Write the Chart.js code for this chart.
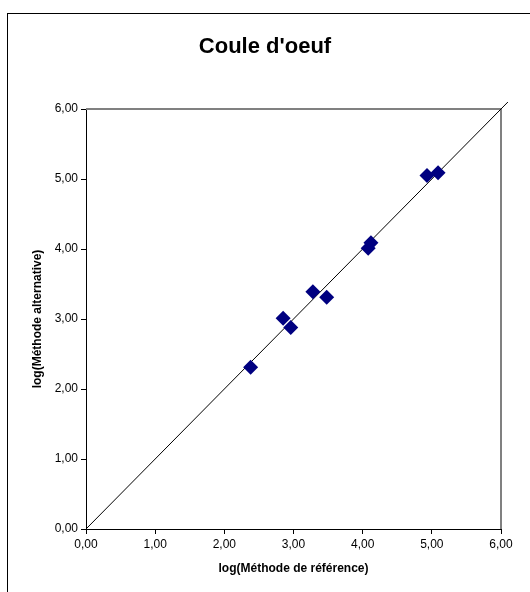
<!DOCTYPE html>
<html>
<head>
<meta charset="utf-8">
<script src="https://cdn.jsdelivr.net/npm/chart.js@4/dist/chart.umd.min.js"></script>
<style>
  body { margin: 0; background: #fff; }
  canvas { display: block; }
</style>
</head>
<body>
<canvas id="myChart" width="530" height="592"></canvas>
<script>
'use strict';

// values
let chartTitle = "Coule d'oeuf";
let refValues = [2.38, 2.85, 2.96, 3.28, 3.48, 4.08, 4.12, 4.93, 5.09];
let altValues = [2.31, 3.01, 2.88, 3.39, 3.31, 4.01, 4.09, 5.05, 5.09];
let lineValues = [0, 6.1];
let tickValues = [0, 1, 2, 3, 4, 5, 6];

let canvasElem = document.getElementById('myChart');
let fontFam = 'Liberation Sans, Arial, sans-serif';

function fmt(v) {
  return v.toFixed(2).replace('.', ',');
}

// frame round the whole chart, title, and grey border of the plot area
let framePlugin = {
  id: 'frame',
  beforeDraw(chart) {
    let ctx = chart.ctx;
    ctx.save();
    ctx.fillStyle = '#fff';
    ctx.fillRect(0, 0, chart.width, chart.height);
    ctx.strokeStyle = '#000';
    ctx.lineWidth = 1;
    ctx.strokeRect(7.5, 13.5, chart.width + 10, chart.height + 10);
    ctx.fillStyle = '#000';
    ctx.font = 'bold 22px ' + fontFam;
    ctx.textAlign = 'center';
    ctx.textBaseline = 'middle';
    ctx.fillText(chartTitle, 265, 47);
    ctx.restore();
  },
  beforeDatasetsDraw(chart) {
    let a = chart.chartArea;
    let ctx = chart.ctx;
    ctx.save();
    ctx.strokeStyle = '#808080';
    ctx.lineWidth = 2;
    ctx.beginPath();
    ctx.moveTo(a.left, a.top);
    ctx.lineTo(a.right, a.top);
    ctx.lineTo(a.right, a.bottom);
    ctx.stroke();
    ctx.restore();
  }
};

function renderChart() {
  let points = [];
  for (let i = 0; i < refValues.length; i++) {
    points.push({ x: refValues[i], y: altValues[i] });
  }
  let linePts = lineValues.map(v => ({ x: v, y: v }));

  let axisBase = {
    type: 'linear',
    min: 0,
    max: 6,
    border: { display: true, color: '#000', width: 1 },
    grid: { display: true, drawOnChartArea: false, drawTicks: true, tickLength: 5, color: '#000' },
    afterBuildTicks(scale) {
      scale.ticks = tickValues.map(v => ({ value: v }));
    }
  };

  let chartObj = {
    type: 'scatter',
    data: {
      datasets: [{
        data: points,
        pointStyle: 'rectRot',
        pointRadius: 7.5,
        pointHoverRadius: 7.5,
        backgroundColor: '#000080',
        borderColor: '#000080',
        borderWidth: 0,
        order: 1
      },
      {
        data: linePts,
        showLine: true,
        pointRadius: 0,
        borderColor: '#000',
        borderWidth: 1,
        clip: false,
        order: 2
      }]
    },
    plugins: [framePlugin],
    options: {
      responsive: false,
      animation: false,
      layout: { padding: { left: 8, right: 29, top: 109, bottom: 0 } },
      plugins: {
        legend: { display: false },
        tooltip: { enabled: false },
        title: { display: false }
      },
      scales: {
        x: Object.assign({}, axisBase, {
          position: 'bottom',
          ticks: {
            color: '#000',
            padding: 3,
            maxRotation: 0,
            font: { family: fontFam, size: 12 },
            callback: v => fmt(v)
          },
          title: {
            display: true,
            text: 'log(Méthode de référence)',
            color: '#000',
            font: { family: fontFam, size: 12, weight: 'bold' },
            padding: { top: 0, bottom: 16 }
          },
          afterFit(scale) { scale.height = 63; }
        }),
        y: Object.assign({}, axisBase, {
          position: 'left',
          ticks: {
            color: '#000',
            padding: 3,
            font: { family: fontFam, size: 12 },
            callback: v => fmt(v)
          },
          title: {
            display: true,
            text: 'log(Méthode alternative)',
            color: '#000',
            font: { family: fontFam, size: 12, weight: 'bold' },
            padding: { top: 22, bottom: 0 }
          },
          afterFit(scale) { scale.width = 78; }
        })
      }
    }
  };
  new Chart(canvasElem, chartObj);
}

renderChart();
</script>
</body>
</html>
